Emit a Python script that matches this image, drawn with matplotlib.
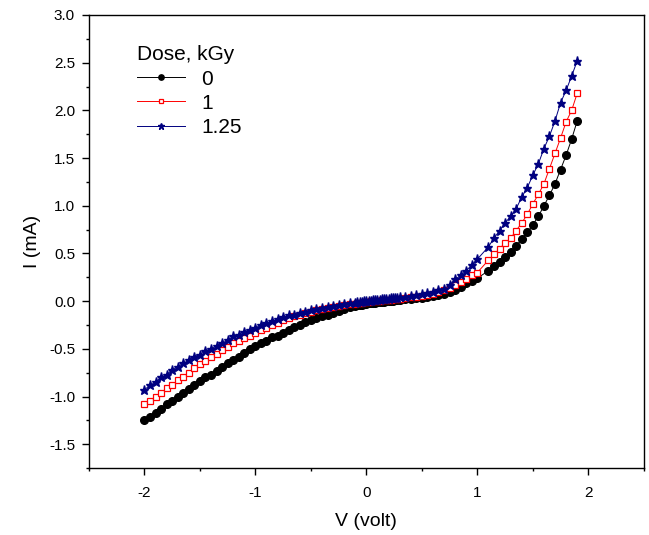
import numpy as np
import matplotlib.pyplot as plt
from matplotlib.ticker import MultipleLocator

plt.rcParams['font.family'] = ['Liberation Sans', 'DejaVu Sans']
plt.rcParams['axes.unicode_minus'] = False

# voltage grid (V): 0.05 V steps, finer steps near zero, one skipped point near 1.05 V
v_neg = [-2.00, -1.95, -1.90, -1.85, -1.80, -1.75, -1.70, -1.65, -1.60, -1.55,
         -1.50, -1.45, -1.40, -1.35, -1.30, -1.25, -1.20, -1.15, -1.10, -1.05,
         -1.00, -0.95, -0.90, -0.85, -0.80, -0.75, -0.70, -0.65, -0.60, -0.55,
         -0.50, -0.45, -0.40, -0.35, -0.30, -0.25, -0.20, -0.15]
v_mid = [-0.10, -0.08, -0.06, -0.04, -0.02, 0.00, 0.02, 0.04, 0.06, 0.08,
         0.10, 0.12, 0.14, 0.16, 0.18, 0.20, 0.22, 0.24, 0.26, 0.28, 0.30]
v_pos = [0.35, 0.40, 0.45, 0.50, 0.55, 0.60, 0.65, 0.70, 0.75, 0.80,
         0.85, 0.90, 0.95, 1.00, 1.10, 1.15, 1.20, 1.25, 1.30, 1.35,
         1.40, 1.45, 1.50, 1.55, 1.60, 1.65, 1.70, 1.75, 1.80, 1.85, 1.90]
volt = v_neg + v_mid + v_pos

# current (mA) for each dose
i_0 = [-1.25, -1.21, -1.17, -1.125, -1.08, -1.045, -1.00, -0.96, -0.92, -0.88,
       -0.84, -0.80, -0.77, -0.73, -0.69, -0.65, -0.62, -0.58, -0.54, -0.50,
       -0.47, -0.44, -0.42, -0.38, -0.36, -0.33, -0.30, -0.27, -0.25, -0.22,
       -0.20, -0.18, -0.16, -0.14, -0.12, -0.10, -0.08, -0.065,
       -0.05, -0.045, -0.04, -0.035, -0.03, -0.025, -0.02, -0.02, -0.015, -0.015,
       -0.01, -0.01, -0.005, -0.005, 0.0, 0.0, 0.005, 0.005, 0.01, 0.01, 0.015,
       0.02, 0.025, 0.03, 0.035, 0.045, 0.055, 0.06, 0.07, 0.10, 0.12,
       0.15, 0.19, 0.21, 0.24, 0.32, 0.37, 0.41, 0.46, 0.52, 0.58,
       0.65, 0.72, 0.80, 0.89, 1.00, 1.11, 1.23, 1.38, 1.53, 1.70, 1.89]
i_1 = [-1.08, -1.045, -1.00, -0.96, -0.915, -0.88, -0.83, -0.79, -0.75, -0.705,
       -0.66, -0.63, -0.58, -0.55, -0.51, -0.48, -0.44, -0.42, -0.39, -0.36,
       -0.33, -0.30, -0.28, -0.25, -0.23, -0.20, -0.18, -0.16, -0.14, -0.125,
       -0.11, -0.095, -0.085, -0.07, -0.06, -0.05, -0.04, -0.03,
       -0.025, -0.02, -0.02, -0.015, -0.01, -0.01, -0.005, 0.0, 0.0, 0.0,
       0.005, 0.005, 0.01, 0.01, 0.01, 0.015, 0.015, 0.02, 0.02, 0.025, 0.025,
       0.03, 0.04, 0.045, 0.055, 0.065, 0.08, 0.10, 0.12, 0.14, 0.17,
       0.20, 0.23, 0.27, 0.30, 0.43, 0.49, 0.55, 0.61, 0.66, 0.74,
       0.82, 0.91, 1.02, 1.12, 1.23, 1.39, 1.55, 1.71, 1.88, 2.00, 2.18]
i_125 = [-0.93, -0.88, -0.85, -0.80, -0.77, -0.72, -0.69, -0.65, -0.62, -0.58,
         -0.56, -0.52, -0.50, -0.47, -0.44, -0.41, -0.37, -0.35, -0.32, -0.30,
         -0.28, -0.25, -0.23, -0.21, -0.19, -0.17, -0.15, -0.14, -0.12, -0.11,
         -0.095, -0.085, -0.07, -0.06, -0.05, -0.04, -0.03, -0.02,
         -0.015, -0.01, -0.01, -0.005, 0.0, 0.0, 0.005, 0.005, 0.01, 0.01,
         0.015, 0.015, 0.02, 0.02, 0.025, 0.025, 0.03, 0.03, 0.035, 0.035, 0.04,
         0.045, 0.055, 0.065, 0.075, 0.09, 0.10, 0.115, 0.13, 0.17, 0.23,
         0.27, 0.32, 0.38, 0.44, 0.57, 0.66, 0.74, 0.82, 0.89, 0.97,
         1.09, 1.19, 1.32, 1.44, 1.60, 1.73, 1.89, 2.08, 2.21, 2.36, 2.52]

doses = ['0', '1', '1.25']

fig = plt.figure(figsize=(6.49, 5.35), dpi=100)
ax = fig.add_axes([0.137, 0.125, 0.855, 0.847])

ax.plot(volt, i_0, color='black', lw=0.7, marker='o', ms=5.5,
        mfc='black', mec='black', label=doses[0])
ax.plot(volt, i_1, color='red', lw=0.7, marker='s', ms=4.5,
        mfc='white', mec='red', mew=0.9, label=doses[1])
ax.plot(volt, i_125, color='#000080', lw=0.7, marker='*', ms=6.5,
        mfc='#000080', mec='#000080', label=doses[2])

ax.set_xlim(-2.5, 2.5)
ax.set_ylim(-1.75, 3.0)
ax.xaxis.set_major_locator(MultipleLocator(1))
ax.xaxis.set_minor_locator(MultipleLocator(0.5))
ax.yaxis.set_major_locator(MultipleLocator(0.5))
ax.yaxis.set_minor_locator(MultipleLocator(0.25))
ax.yaxis.set_major_formatter(plt.FormatStrFormatter('%.1f'))
ax.tick_params(which='both', direction='out', top=False, right=False,
               labelsize=11, width=1.0, pad=5)
ax.tick_params(axis='x', which='both', pad=8)
ax.tick_params(which='major', length=5)
ax.tick_params(which='minor', length=2.5)
for s in ax.spines.values():
    s.set_linewidth(1.0)

ax.set_xlabel('V (volt)', fontsize=14, labelpad=9)
ax.set_ylabel('I (mA)', fontsize=14, labelpad=6)

leg = ax.legend(title='Dose, kGy', loc='upper left', bbox_to_anchor=(0.086, 0.933),
                frameon=False, fontsize=15, title_fontsize=15, handlelength=2.3,
                numpoints=1, alignment='left', labelspacing=0.25, handletextpad=0.8,
                borderaxespad=0, borderpad=0, markerscale=0.7)

fig.savefig('out.png', dpi=100)
